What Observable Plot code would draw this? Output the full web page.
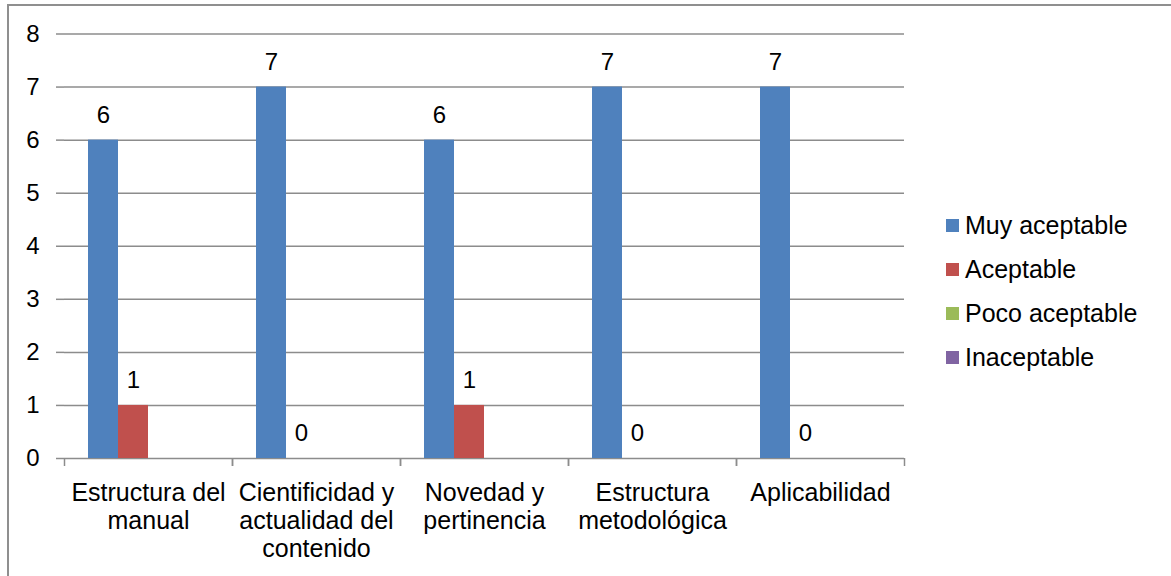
<!DOCTYPE html>
<html>
<head>
<meta charset="utf-8">
<script src="https://cdn.jsdelivr.net/npm/d3@7"></script>
<script src="https://cdn.jsdelivr.net/npm/@observablehq/plot@0.6"></script>
<style>
  body { margin: 0; background: #fff; font-family: "Liberation Sans", Arial, sans-serif; }
  #wrap { position: relative; width: 1171px; height: 576px; overflow: hidden; background: #fff; }
  #border { position: absolute; left: 7px; top: 4px; width: 1400px; height: 800px; border: 2px solid #8f8f8f; box-sizing: border-box; pointer-events: none; }
  #chart { position: absolute; left: 0; top: 0; }
  #legend { position: absolute; left: 946px; top: 203px; font-size: 25px; color: #000; }
  .row { display: flex; align-items: center; height: 44px; }
  .sw { width: 13px; height: 13px; margin-right: 6px; }
</style>
</head>
<body>
<div id="wrap">
  <div id="border"></div>
  <div id="chart"></div>
  <div id="legend"></div>
</div>
<script>
// ---- data ----
const categories = ["Estructura del manual", "Cientificidad y actualidad del contenido", "Novedad y pertinencia", "Estructura metodológica", "Aplicabilidad"];
const categoryLabels = ["Estructura del\nmanual", "Cientificidad y\nactualidad del\ncontenido", "Novedad y\npertinencia", "Estructura\nmetodológica", "Aplicabilidad"];
const series = ["Muy aceptable", "Aceptable", "Poco aceptable", "Inaceptable"];
const muyAceptable = [6, 7, 6, 7, 7];
const aceptable = [1, 0, 1, 0, 0];
const pocoAceptable = [0, 0, 0, 0, 0];
const inaceptable = [0, 0, 0, 0, 0];
const labeledSeries = ["Muy aceptable", "Aceptable"];
const yTicks = [0, 1, 2, 3, 4, 5, 6, 7, 8];
const colors = ["#4F81BD", "#C0504D", "#9BBB59", "#8064A2"];

const values = [muyAceptable, aceptable, pocoAceptable, inaceptable];
const data = [];
categories.forEach((c, i) => series.forEach((s, j) => data.push({cat: c, series: s, value: values[j][i]})));
const labelOf = new Map(categories.map((c, i) => [c, categoryLabels[i]]));

// ---- layout ----
const W = 1171, H = 576, mL = 64, mR = 267, mT = 33.5, mB = 118;
const FW = (W - mL - mR) / categories.length;
const grey = "#8c8c8c";

const chart = Plot.plot({
  width: W, height: H,
  marginLeft: mL, marginRight: mR, marginTop: mT, marginBottom: mB,
  style: {fontFamily: "'Liberation Sans', Arial, sans-serif", background: "transparent", overflow: "visible"},
  fx: {domain: categories, padding: 0, axis: null, label: null},
  x: {domain: series, paddingInner: 0, paddingOuter: 0.777, axis: null, label: null},
  y: {domain: [0, 8], axis: null, label: null},
  color: {domain: series, range: colors},
  marks: [
    Plot.gridY(yTicks, {stroke: grey, strokeOpacity: 1, strokeWidth: 1.5}),
    Plot.axisY(yTicks, {tickSize: 8, tickPadding: 17, stroke: grey, strokeWidth: 1.5, fontSize: 24, fill: "#000", tickFormat: d => String(d), label: null}),
    Plot.ruleX([categories[0]], {fx: d => d, y1: 0, y2: 8, dx: -FW / 2, stroke: grey, strokeWidth: 1.5}),
    Plot.axisFx({anchor: "bottom", tickSize: 8, stroke: grey, strokeWidth: 1.5, tickFormat: () => "", dx: -FW / 2, label: null}),
    Plot.axisFx([categories[categories.length - 1]], {anchor: "bottom", tickSize: 8, stroke: grey, strokeWidth: 1.5, tickFormat: () => "", dx: FW / 2, label: null}),
    Plot.barY(data, {fx: "cat", x: "series", y: "value", fill: "series"}),
    Plot.text(data.filter(d => labeledSeries.includes(d.series)), {fx: "cat", x: "series", y: "value", text: d => String(d.value), dy: -25, lineAnchor: "middle", fontSize: 24, fill: "#000"}),
    Plot.text(categories, {fx: d => d, text: d => labelOf.get(d), frameAnchor: "bottom", lineAnchor: "top", dy: 22, lineHeight: 1.136, fontSize: 25, fill: "#000"})
  ]
});
document.getElementById("chart").appendChild(chart);

// legend
const lg = d3.select("#legend");
series.forEach((s, i) => {
  const r = lg.append("div").attr("class", "row");
  r.append("div").attr("class", "sw").style("background", colors[i]);
  r.append("span").text(s);
});
</script>
</body>
</html>
